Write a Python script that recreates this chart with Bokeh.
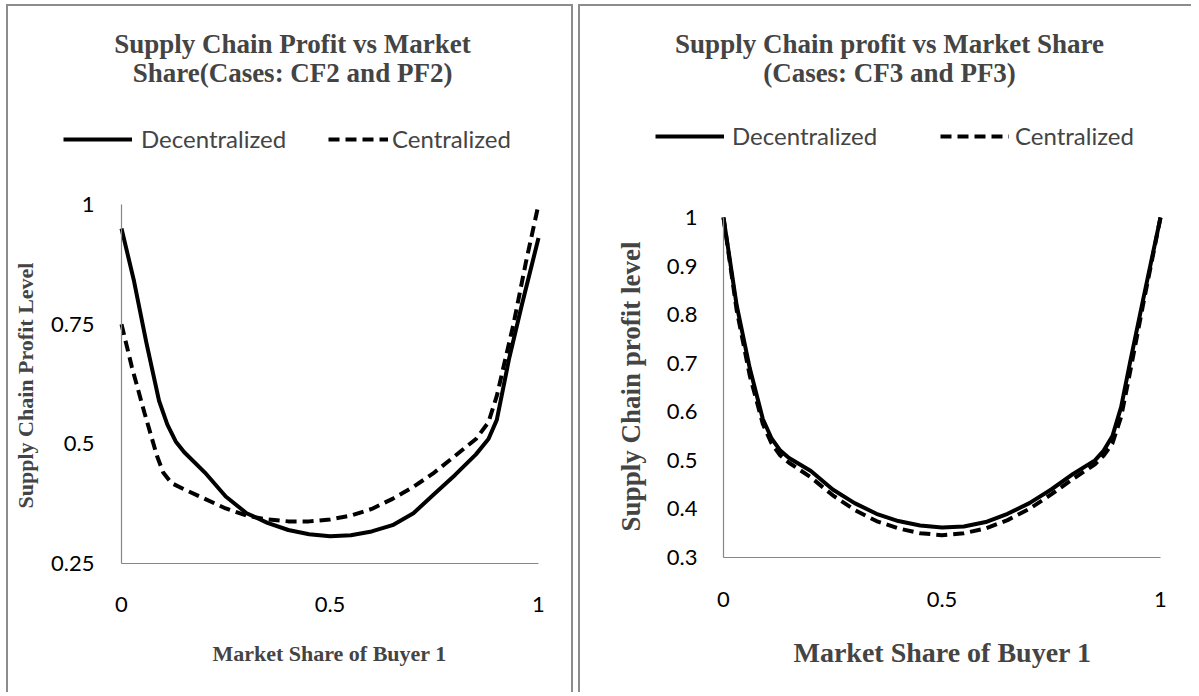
from bokeh.plotting import figure
from bokeh.models import Range1d, FixedTicker, Label, Legend, LegendItem
from bokeh.layouts import row
from bokeh.embed import file_html
from bokeh.resources import INLINE

# ---------------- data ----------------
# Left chart: Cases CF2 and PF2
left_dec_x = [0, 0.03, 0.06, 0.09, 0.11, 0.13, 0.15, 0.2, 0.25, 0.3, 0.35, 0.4, 0.45, 0.5,
              0.55, 0.6, 0.65, 0.7, 0.75, 0.8, 0.85, 0.88, 0.9, 0.93, 0.96, 1.0]
left_dec_y = [0.95, 0.84, 0.71, 0.59, 0.54, 0.505, 0.483, 0.44, 0.39, 0.355, 0.335, 0.32, 0.311, 0.307,
              0.309, 0.317, 0.33, 0.355, 0.395, 0.435, 0.478, 0.51, 0.55, 0.68, 0.79, 0.93]
left_cen_x = [0, 0.025, 0.055, 0.085, 0.1, 0.12, 0.15, 0.2, 0.25, 0.3, 0.35, 0.4, 0.45, 0.5,
              0.55, 0.6, 0.65, 0.7, 0.75, 0.8, 0.85, 0.88, 0.9, 0.94, 0.97, 1.0]
left_cen_y = [0.75, 0.66, 0.565, 0.475, 0.44, 0.418, 0.405, 0.385, 0.365, 0.35, 0.342, 0.338, 0.338, 0.342,
              0.35, 0.364, 0.385, 0.41, 0.44, 0.475, 0.51, 0.545, 0.6, 0.75, 0.88, 1.0]

# Right chart: Cases CF3 and PF3
right_dec_x = [0, 0.03, 0.06, 0.09, 0.11, 0.13, 0.15, 0.2, 0.25, 0.3, 0.35, 0.4, 0.45, 0.5,
               0.55, 0.6, 0.65, 0.7, 0.75, 0.8, 0.85, 0.87, 0.89, 0.91, 0.93, 0.96, 1.0]
right_dec_y = [1.0, 0.82, 0.69, 0.585, 0.545, 0.52, 0.505, 0.478, 0.44, 0.412, 0.39, 0.375, 0.366, 0.362,
               0.364, 0.373, 0.39, 0.412, 0.44, 0.472, 0.5, 0.52, 0.55, 0.61, 0.7, 0.83, 1.0]
right_cen_x = right_dec_x
right_cen_y = [1.0, 0.81, 0.675, 0.575, 0.535, 0.51, 0.495, 0.465, 0.428, 0.398, 0.375, 0.36, 0.35, 0.346,
               0.35, 0.36, 0.377, 0.4, 0.43, 0.462, 0.492, 0.51, 0.535, 0.59, 0.68, 0.82, 1.0]

x_ticks = [0, 0.5, 1]
x_tick_labels = ["0", "0.5", "1"]
left_y_ticks = [0.25, 0.5, 0.75, 1]
left_y_tick_labels = ["0.25", "0.5", "0.75", "1"]
right_y_ticks = [0.3, 0.4, 0.5, 0.6, 0.7, 0.8, 0.9, 1.0]
right_y_tick_labels = ["0.3", "0.4", "0.5", "0.6", "0.7", "0.8", "0.9", "1"]

left_title = ["Supply Chain Profit vs Market", "Share(Cases: CF2 and PF2)"]
right_title = ["Supply Chain profit vs Market Share", "(Cases: CF3 and PF3)"]
left_ylabel = "Supply Chain Profit Level"
right_ylabel = "Supply Chain profit level"
xlabel = "Market Share of Buyer 1"
series_names = ["Decentralized", "Centralized"]

AXIS_COLOR = "#868686"
BORDER = "2px solid #8c8c8c"
SERIF = "Liberation Serif"
SANS = "Lato"
DASH = "11 6"


def make_panel(W, H, fl, fr, ft, fb, yr, yticks, ylabels, ystand, xstand,
               dec, cen, titles, title_cx, title_sz, ylab, ylab_c, ylab_sz,
               xlab_c, xlab_sz, leg1, leg2, leg_cy, styles):
    # fl, fr, ft, fb: canvas pixels of the data area (x 0..1, y yr[0]..yr[1])
    kx = (fr - fl) / 1.0
    ky = (fb - ft) / (yr[1] - yr[0])
    x_range = Range1d(0 - fl / kx, 1 + (W - fr) / kx)
    y_range = Range1d(yr[0] - (H - fb) / ky, yr[1] + ft / ky)
    p = figure(width=W, height=H, x_range=x_range, y_range=y_range,
               toolbar_location=None, output_backend="svg", title=None)
    p.min_border = 0
    p.min_border_left = 0
    p.min_border_right = 0
    p.min_border_top = 0
    p.min_border_bottom = 0
    p.outline_line_color = None
    p.background_fill_color = "white"
    p.border_fill_color = "white"
    p.xgrid.visible = False
    p.ygrid.visible = False
    p.styles = styles

    for ax, ticks, labels, stand, loc, bnd in (
            (p.xaxis[0], x_ticks, x_tick_labels, xstand, yr[0], (0, 1)),
            (p.yaxis[0], yticks, ylabels, ystand, 0, yr)):
        ax.fixed_location = loc
        ax.bounds = bnd
        ax.ticker = FixedTicker(ticks=ticks, minor_ticks=[])
        ax.major_label_overrides = {t: l for t, l in zip(ticks, labels)}
        ax.axis_line_color = AXIS_COLOR
        ax.axis_line_width = 1.2
        ax.major_tick_line_color = None
        ax.minor_tick_line_color = None
        ax.major_tick_out = 0
        ax.major_tick_in = 0
        ax.major_label_standoff = stand
        ax.major_label_text_font = SANS
        ax.major_label_text_font_size = "22px"
        ax.major_label_text_color = "black"

    r1 = p.line(dec[0], dec[1], line_color="black", line_width=4, line_join="round")
    r2 = p.line(cen[0], cen[1], line_color="black", line_width=4, line_dash=DASH)

    def dx(cx):
        return (cx - fl) / kx

    def dy(cy):
        return yr[0] + (fb - cy) / ky

    for i, t in enumerate(titles):
        p.add_layout(Label(x=dx(title_cx), y=dy(37 + 29 * i), text=t, text_font=SERIF,
                           text_font_style="bold", text_font_size=title_sz,
                           text_align="center", text_baseline="middle"))
    p.add_layout(Label(x=dx(xlab_c[0]), y=dy(xlab_c[1]), text=xlabel, text_font=SERIF,
                       text_font_style="bold", text_font_size=xlab_sz,
                       text_align="center", text_baseline="middle"))
    p.add_layout(Label(x=dx(ylab_c[0]), y=dy(ylab_c[1]), text=ylab, text_font=SERIF,
                       text_font_style="bold", text_font_size=ylab_sz, angle=1.5707963,
                       text_align="center", text_baseline="middle"))

    gh = 28
    for rend, name, (lx, gw, st) in ((r1, series_names[0], leg1), (r2, series_names[1], leg2)):
        leg = Legend(items=[LegendItem(label=name, renderers=[rend])],
                     location=(lx, H - leg_cy - gh // 2),
                     orientation="horizontal", padding=0, margin=0, spacing=0,
                     glyph_width=gw, glyph_height=gh, label_height=gh, label_standoff=st,
                     label_text_font=SANS, label_text_font_size="24px",
                     border_line_color=None, background_fill_alpha=0)
        p.add_layout(leg)
    return p


H = 688
p1 = make_panel(W=567, H=H, fl=113, fr=530, ft=198, fb=557, yr=(0.25, 1.0),
                yticks=left_y_ticks, ylabels=left_y_tick_labels, ystand=27, xstand=33,
                dec=(left_dec_x, left_dec_y), cen=(left_cen_x, left_cen_y),
                titles=left_title, title_cx=284, title_sz="27px",
                ylab=left_ylabel, ylab_c=(17, 379), ylab_sz="22px",
                xlab_c=(321, 647), xlab_sz="22px",
                leg1=(55, 69, 9), leg2=(320, 60, 4), leg_cy=133,
                styles={"border-left": BORDER, "border-top": BORDER, "border-right": BORDER})

p2 = make_panel(W=613, H=H, fl=143, fr=580, ft=211, fb=551, yr=(0.3, 1.0),
                yticks=right_y_ticks, ylabels=right_y_tick_labels, ystand=26, xstand=34,
                dec=(right_dec_x, right_dec_y), cen=(right_cen_x, right_cen_y),
                titles=right_title, title_cx=309, title_sz="27px",
                ylab=right_ylabel, ylab_c=(50, 380), ylab_sz="27px",
                xlab_c=(362, 646), xlab_sz="28px",
                leg1=(75, 69, 8), leg2=(360, 69, 6), leg_cy=130,
                styles={"border-left": BORDER, "border-top": BORDER})

layout = row(p1, p2, spacing=5, styles={"margin-left": "6px", "margin-top": "4px"})
open("out.html", "w").write(file_html(layout, INLINE))
